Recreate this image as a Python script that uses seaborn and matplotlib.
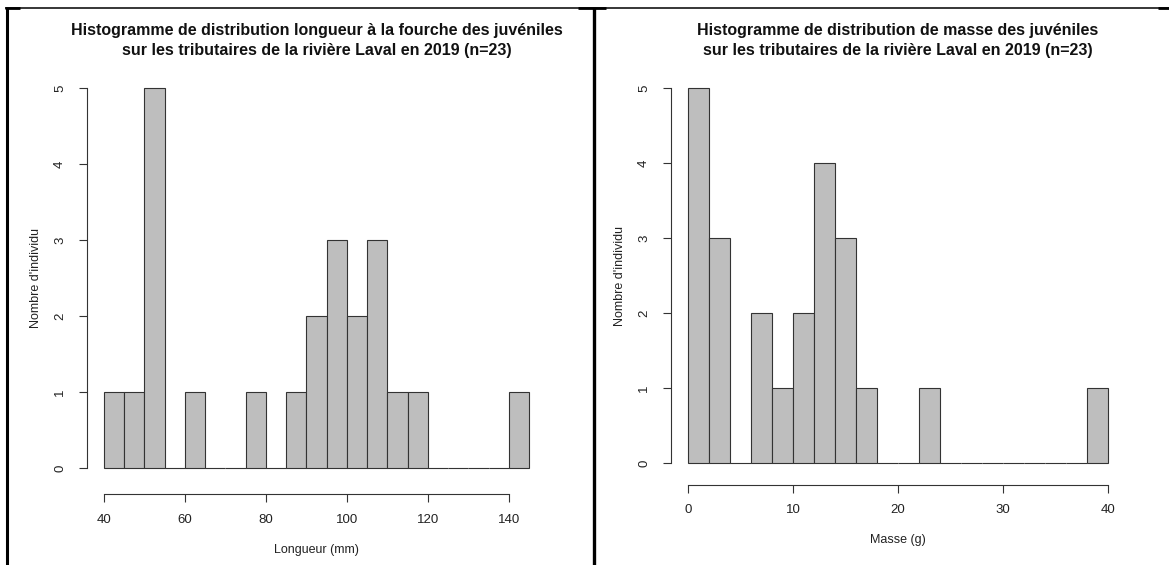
import numpy as np
import pandas as pd
import matplotlib
matplotlib.use("Agg")
import matplotlib.pyplot as plt
from matplotlib.lines import Line2D
import seaborn as sns

# ---- data ----
long_edges = list(range(40, 150, 5))
long_counts = [1, 1, 5, 0, 1, 0, 0, 1, 0, 1, 2, 3, 2, 3, 1, 1, 0, 0, 0, 0, 1]
long_ticks = [40, 60, 80, 100, 120, 140]

masse_edges = list(range(0, 42, 2))
masse_counts = [5, 3, 0, 2, 1, 2, 4, 3, 1, 0, 0, 1, 0, 0, 0, 0, 0, 0, 0, 1]
masse_ticks = [0, 10, 20, 30, 40]

y_ticks = [0, 1, 2, 3, 4, 5]

title_left = "Histogramme de distribution longueur à la fourche des juvéniles\nsur les tributaires de la rivière Laval en 2019 (n=23)"
title_right = "Histogramme de distribution de masse des juvéniles\nsur les tributaires de la rivière Laval en 2019 (n=23)"
xlabel_left = "Longueur (mm)"
xlabel_right = "Masse (g)"
ylabel = "Nombre d'individu"

sns.set_style("white")
plt.rcParams['font.family'] = ['Liberation Sans', 'DejaVu Sans']

W, H = 1169, 565
fig = plt.figure(figsize=(W / 100, H / 100), dpi=100)

def px_axes(x0, x1, ytop, ybot):
    return fig.add_axes([x0 / W, 1 - ybot / H, (x1 - x0) / W, (ybot - ytop) / H])

ax1 = px_axes(87, 546, 73, 483)
ax2 = px_axes(671, 1125, 73, 478)

def draw(ax, edges, counts, ticks, xlabel, title, xoff):
    e = np.array(edges, dtype=float)
    centers = (e[:-1] + e[1:]) / 2
    df = pd.DataFrame({"x": centers, "w": counts})
    sns.histplot(data=df, x="x", weights="w", bins=edges, ax=ax,
                 color="#BEBEBE", edgecolor="#333333", linewidth=0.8,
                 alpha=1.0)
    lo, hi = e[0], e[-1]
    ext = (hi - lo) * 0.04
    ax.set_xlim(lo - ext, hi + ext)
    ax.set_ylim(-0.2, 5.2)
    ax.set_xticks(ticks)
    ax.set_yticks(y_ticks)
    ax.set_xticklabels([str(t) for t in ticks])
    ax.set_yticklabels([str(t) for t in y_ticks], rotation=90, va="center")
    for s in ["top", "right"]:
        ax.spines[s].set_visible(False)
    ax.spines["left"].set_bounds(0, 5)
    ax.spines["bottom"].set_bounds(ticks[0], ticks[-1])
    ax.spines["bottom"].set_position(("outward", xoff))
    for s in ["left", "bottom"]:
        ax.spines[s].set_color("#333333")
        ax.spines[s].set_linewidth(0.8)
    ax.tick_params(axis="both", direction="out", length=6, width=0.8,
                   color="#333333", labelsize=9.5, labelcolor="#222222",
                   left=True, bottom=True)
    ax.tick_params(axis="x", pad=8)
    ax.tick_params(axis="y", pad=9)
    ax.set_xlabel(xlabel, fontsize=9, labelpad=13, color="#222222")
    ax.set_ylabel(ylabel, fontsize=9, labelpad=9, color="#222222")
    ax.set_title(title, fontsize=11.5, fontweight="bold", pad=13,
                 color="#111111", linespacing=1.4)
    ax.patch.set_alpha(0)

draw(ax1, long_edges, long_counts, long_ticks, xlabel_left, title_left, 8)
draw(ax2, masse_edges, masse_counts, masse_ticks, xlabel_right, title_right, 5)

# frame lines (table borders)
def fline(x0, y0, x1, y1, lw):
    fig.add_artist(Line2D([x0 / W, x1 / W], [1 - y0 / H, 1 - y1 / H],
                          transform=fig.transFigure, color="black",
                          linewidth=lw, solid_capstyle="butt"))

fline(5, 8, W, 8, 1.1)
fline(5, 8, 20, 8, 2.0)
fline(578, 8, 606, 8, 2.0)
fline(1158, 8, W, 8, 2.0)
fline(7, 8, 7, H, 2.2)
fline(594, 8, 594, H, 2.4)

fig.savefig("out.png", dpi=100, facecolor="white")
